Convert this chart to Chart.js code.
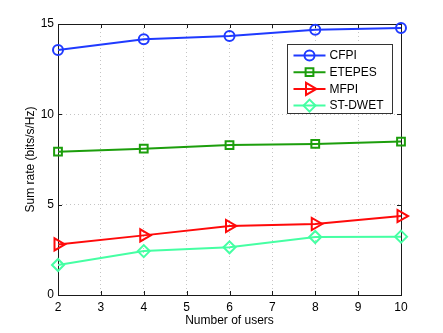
<!DOCTYPE html>
<html>
<head>
<meta charset="utf-8">
<script src="https://cdn.jsdelivr.net/npm/chart.js@4/dist/chart.umd.min.js"></script>
<style>
    html, body { margin: 0; padding: 0; background: #fff; }
    #wrap { width: 443px; height: 333px; }
</style>
</head>
<body>
<div id="wrap"><canvas id="rateChart" width="443" height="333"></canvas></div>
<script>
// Sum rate vs number of users
const users = [2, 4, 6, 8, 10];
const cfpi = [13.56, 14.15, 14.33, 14.68, 14.78];
const etepes = [7.93, 8.10, 8.30, 8.36, 8.49];
const mfpi = [2.80, 3.30, 3.82, 3.93, 4.37];
const stDwet = [1.66, 2.43, 2.64, 3.21, 3.23];
const xTicks = [2, 3, 4, 5, 6, 7, 8, 9, 10];
const yTicks = [0, 5, 10, 15];

const FONT = 'Liberation Sans, Arial, Helvetica, sans-serif';

function series(label, values, color, style, radius, rotation) {
    return {
        label: label,
        data: users.map((u, i) => ({ x: u, y: values[i] })),
        borderColor: color,
        backgroundColor: 'rgba(0,0,0,0)',
        borderWidth: 2,
        pointStyle: style,
        pointRadius: radius,
        pointRotation: rotation || 0,
        pointBorderWidth: 2,
        pointBorderColor: color,
        pointBackgroundColor: 'rgba(0,0,0,0)',
        tension: 0,
        clip: false
    };
}

// axes box with inward ticks, drawn under the data
const boxPlugin = {
    id: 'matlabBox',
    beforeDatasetsDraw(chart) {
        const { ctx, chartArea: a, scales } = chart;
        ctx.save();
        ctx.strokeStyle = '#1a1a1a';
        ctx.lineWidth = 1;
        ctx.beginPath();
        const tl = 4;
        xTicks.forEach(v => {
            const x = Math.round(scales.x.getPixelForValue(v)) + 0.5;
            ctx.moveTo(x, a.bottom); ctx.lineTo(x, a.bottom - tl);
            ctx.moveTo(x, a.top); ctx.lineTo(x, a.top + tl);
        });
        yTicks.forEach(v => {
            const y = Math.round(scales.y.getPixelForValue(v)) + 0.5;
            ctx.moveTo(a.left, y); ctx.lineTo(a.left + tl, y);
            ctx.moveTo(a.right, y); ctx.lineTo(a.right - tl, y);
        });
        ctx.stroke();
        ctx.strokeRect(Math.round(a.left) + 0.5, Math.round(a.top) + 0.5,
            Math.round(a.right - a.left), Math.round(a.bottom - a.top));
        ctx.restore();
    }
};

// legend box inside the upper right corner
const legendPlugin = {
    id: 'insideLegend',
    afterDatasetsDraw(chart) {
        const { ctx, chartArea: a } = chart;
        const w = 105, h = 69;
        const left = Math.round(a.right - 9 - w) + 0.5;
        const top = Math.round(a.top + 20) + 0.5;
        ctx.save();
        ctx.fillStyle = '#fff';
        ctx.fillRect(left, top, w, h);
        ctx.strokeStyle = '#333';
        ctx.lineWidth = 1;
        ctx.strokeRect(left, top, w, h);
        chart.data.datasets.forEach((ds, i) => {
            const y = top + 11 + i * 16.7;
            ctx.strokeStyle = ds.borderColor;
            ctx.lineWidth = 2;
            ctx.beginPath();
            ctx.moveTo(left + 6, y);
            ctx.lineTo(left + 38, y);
            ctx.stroke();
            ctx.fillStyle = 'rgba(0,0,0,0)';
            Chart.helpers.drawPoint(ctx, {
                pointStyle: ds.pointStyle,
                rotation: ds.pointRotation,
                radius: ds.pointRadius,
                borderWidth: 2
            }, left + 22, y);
            ctx.fillStyle = '#000';
            ctx.font = '12px ' + FONT;
            ctx.textBaseline = 'middle';
            ctx.textAlign = 'left';
            ctx.fillText(ds.label, left + 42, y + 0.5);
        });
        ctx.restore();
    }
};

new Chart(document.getElementById('rateChart'), {
    type: 'line',
    data: {
        datasets: [
            series('CFPI', cfpi, '#1f3aff', 'circle', 5),
            series('ETEPES', etepes, '#1c9e0c', 'rect', 5.5),
            series('MFPI', mfpi, '#ff0a0a', 'triangle', 7, 90),
            series('ST-DWET', stDwet, '#45ffa3', 'rectRot', 6)
        ]
    },
    options: {
        responsive: false,
        animation: false,
        layout: { padding: { top: 24, right: 42, left: 0, bottom: 0 } },
        plugins: {
            legend: { display: false },
            tooltip: { enabled: false }
        },
        scales: {
            x: {
                type: 'linear',
                min: 2,
                max: 10,
                afterBuildTicks: s => { s.ticks = xTicks.map(v => ({ value: v })); },
                afterFit: s => { s.height = 38; },
                grid: { color: '#c4c4c4', drawTicks: false, lineWidth: 1 },
                border: { display: false, dash: [1, 3] },
                ticks: { color: '#000', padding: 5, font: { family: FONT, size: 12 }, maxRotation: 0 },
                title: {
                    display: true,
                    text: 'Number of users',
                    color: '#000',
                    font: { family: FONT, size: 12 },
                    padding: { top: 0, bottom: 5 }
                }
            },
            y: {
                type: 'linear',
                min: 0,
                max: 15,
                afterBuildTicks: s => { s.ticks = yTicks.map(v => ({ value: v })); },
                afterFit: s => { s.width = 58; },
                grid: { color: '#c4c4c4', drawTicks: false, lineWidth: 1 },
                border: { display: false, dash: [1, 3] },
                ticks: { color: '#000', padding: 4, font: { family: FONT, size: 12 } },
                title: {
                    display: true,
                    text: 'Sum rate (bits/s/Hz)',
                    color: '#000',
                    font: { family: FONT, size: 12 },
                    padding: { top: 23, bottom: 0 }
                }
            }
        }
    },
    plugins: [boxPlugin, legendPlugin]
});
</script>
</body>
</html>
